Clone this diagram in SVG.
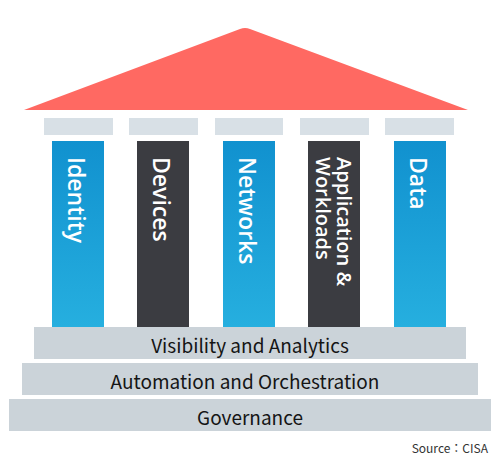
<svg xmlns="http://www.w3.org/2000/svg" width="500" height="470" viewBox="0 0 500 470">
<defs>
<linearGradient id="blue" x1="0" y1="0" x2="0" y2="1">
<stop offset="0" stop-color="#1191CF"/>
<stop offset="1" stop-color="#26AFDF"/>
</linearGradient>
<style>
.cap{fill:#D8E0E6}
.base{fill:#CBD3D9}
.blue{fill:url(#blue)}
.dark{fill:#3B3C41}
.pt{font-family:"Open Sans","Noto Sans",sans-serif;font-size:23px;font-weight:600;fill:#fff;dominant-baseline:central}
.pt2{font-family:"Open Sans","Noto Sans",sans-serif;font-size:20px;font-weight:600;fill:#fff;dominant-baseline:central}
.bt{font-family:"Noto Sans CJK JP","Noto Sans",sans-serif;font-size:19px;font-weight:400;fill:#151515;text-anchor:middle;dominant-baseline:central}
.src{font-family:"Noto Sans CJK JP","Noto Sans",sans-serif;font-size:12px;fill:#333;text-anchor:end}
</style>
</defs>
<g id="roof"><path d="M24 110 L240 29 Q245 27 250 29 L468 110 Z" fill="#FF6962"/></g>
<g id="capitals">
<rect class="cap" x="44" y="118" width="69" height="17"/>
<rect class="cap" x="129" y="118" width="69" height="17"/>
<rect class="cap" x="215" y="118" width="68" height="17"/>
<rect class="cap" x="300" y="118" width="69" height="17"/>
<rect class="cap" x="385" y="118" width="69" height="17"/>
</g>
<g id="identity"><rect class="blue" x="52" y="141" width="52" height="186"/><text class="pt" transform="translate(77,157) rotate(90)">Identity</text></g>
<g id="devices"><rect class="dark" x="137" y="141" width="52" height="186"/><text class="pt" transform="translate(162,157) rotate(90)">Devices</text></g>
<g id="networks"><rect class="blue" x="223" y="141" width="52" height="186"/><text class="pt" transform="translate(248,157) rotate(90)">Networks</text></g>
<g id="applications"><rect class="dark" x="308" y="141" width="52" height="186"/><text class="pt2" transform="translate(334,157) rotate(90)"><tspan x="0" y="-11">Application &amp;</tspan><tspan x="0" y="10">Workloads</tspan></text></g>
<g id="data"><rect class="blue" x="394" y="141" width="52" height="186"/><text class="pt" transform="translate(419,157) rotate(90)">Data</text></g>
<g id="visibility"><rect class="base" x="34" y="327" width="432" height="32"/><text class="bt" x="250" y="344">Visibility and Analytics</text></g>
<g id="automation"><rect class="base" x="22" y="363" width="456" height="32"/><text class="bt" x="245" y="380">Automation and Orchestration</text></g>
<g id="governance"><rect class="base" x="9" y="399" width="482" height="32"/><text class="bt" x="250" y="416">Governance</text></g>
<text class="src" x="488" y="453">Source：CISA</text>
<g id="connectors"/>
</svg>
